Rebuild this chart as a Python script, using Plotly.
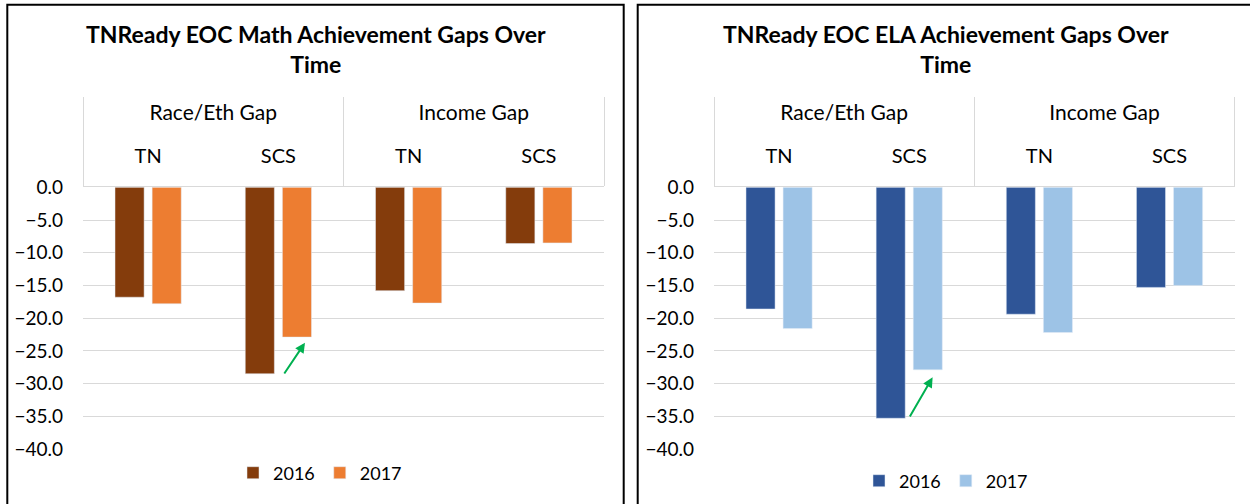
import plotly.graph_objects as go

# ---- data ----
groups = ["Race/Eth Gap", "Race/Eth Gap", "Income Gap", "Income Gap"]
regions = ["TN", "SCS", "TN", "SCS"]
years = ["2016", "2017"]
math_2016 = [-16.8, -28.5, -15.8, -8.6]
math_2017 = [-17.8, -22.9, -17.7, -8.5]
ela_2016 = [-18.6, -35.3, -19.4, -15.3]
ela_2017 = [-21.6, -27.9, -22.2, -15.0]
y_ticks = [0, -5, -10, -15, -20, -25, -30, -35, -40]
titles = ["TNReady EOC Math Achievement Gaps Over<br>Time",
          "TNReady EOC ELA Achievement Gaps Over<br>Time"]

W, H = 1250, 504
def px(x):
    return x / W
def py(y):
    return 1 - y / H

FONT = "Lato, Carlito, Calibri, sans-serif"
TXT = "#000000"
GRID = "#D9D9D9"

# category keys (group + region) and derived group label positions / dividers
keys = [f"{g} | {r}" for g, r in zip(groups, regions)]
n = len(keys)
uniq_groups = list(dict.fromkeys(groups))
group_centers = [sum(i for i, g in enumerate(groups) if g == ug) /
                 groups.count(ug) for ug in uniq_groups]
dividers = [-0.5] + [i + 0.5 for i in range(n - 1) if groups[i] != groups[i + 1]] + [n - 0.5]
xrange_ = [-0.5, n - 0.5]

fig = go.Figure()
fig.add_trace(go.Bar(x=keys, y=math_2016, name=years[0], marker_color="#843C0C",
                     xaxis="x", yaxis="y", legend="legend"))
fig.add_trace(go.Bar(x=keys, y=math_2017, name=years[1], marker_color="#ED7D31",
                     xaxis="x", yaxis="y", legend="legend"))
fig.add_trace(go.Bar(x=keys, y=ela_2016, name=years[0], marker_color="#2F5597",
                     xaxis="x2", yaxis="y2", legend="legend2"))
fig.add_trace(go.Bar(x=keys, y=ela_2017, name=years[1], marker_color="#9DC3E6",
                     xaxis="x2", yaxis="y2", legend="legend2"))
# empty helper traces so the overlaid group-label axes are drawn
for xa, ya in [("x3", "y"), ("x4", "y2")]:
    fig.add_trace(go.Scatter(x=[], y=[], xaxis=xa, yaxis=ya, showlegend=False,
                             hoverinfo="skip", mode="markers"))

ydom = [py(449), py(187.3)]
xax = dict(type="category", side="top", showgrid=False, range=xrange_,
           tickmode="array", tickvals=keys, ticktext=regions, ticks="",
           ticklabelstandoff=15,
           showline=True, linecolor=GRID, linewidth=1, automargin=False,
           tickfont=dict(family=FONT, size=20, color=TXT))
xgrp = dict(type="linear", side="top", showgrid=False, zeroline=False, showline=False,
            range=xrange_, tickmode="array", tickvals=group_centers, ticktext=uniq_groups,
            ticks="", ticklabelstandoff=62, automargin=False,
            minor=dict(tickmode="array", tickvals=dividers, ticks="outside", ticklen=89,
                       tickcolor=GRID, tickwidth=1, showgrid=False),
            tickfont=dict(family=FONT, size=21, color=TXT))
yax = dict(range=[-40, 0], tickvals=y_ticks, tickformat=".1f", showgrid=True,
           gridcolor=GRID, gridwidth=1, zeroline=False, showline=False, ticks="",
           automargin=False,
           tickfont=dict(family=FONT, size=19, color=TXT), ticklabelstandoff=19)

fig.update_layout(
    width=W, height=H, margin=dict(l=0, r=0, t=0, b=0, autoexpand=False),
    paper_bgcolor="white", plot_bgcolor="white",
    barmode="group", bargap=0.43, bargroupgap=0.216,
    xaxis=dict(domain=[px(83), px(604)], anchor="y", **xax),
    yaxis=dict(domain=ydom, anchor="x", **yax),
    xaxis2=dict(domain=[px(714), px(1234.6)], anchor="y2", **xax),
    yaxis2=dict(domain=ydom, anchor="x2", **yax),
    xaxis3=dict(overlaying="x", anchor="y", **xgrp),
    xaxis4=dict(overlaying="x2", anchor="y2", **xgrp),
    legend=dict(orientation="h", x=px(320), y=py(473), xanchor="center", yanchor="middle",
                font=dict(family=FONT, size=18, color=TXT), bgcolor="rgba(0,0,0,0)"),
    legend2=dict(orientation="h", x=px(946), y=py(481), xanchor="center", yanchor="middle",
                 font=dict(family=FONT, size=18, color=TXT), bgcolor="rgba(0,0,0,0)"),
    showlegend=True,
)

# titles
for t, cx in zip(titles, [315.5, 946]):
    fig.add_annotation(text=t, xref="paper", yref="paper", x=px(cx), y=py(49),
                       xanchor="center", yanchor="middle", showarrow=False,
                       font=dict(family=FONT, size=23, color=TXT, weight="bold"))

# green arrows
for (tx, ty, sx, sy) in [(305, 342.7, 283.3, 375), (932.6, 377.3, 909, 418)]:
    fig.add_annotation(text="", xref="paper", yref="paper", x=px(tx), y=py(ty),
                       ax=sx - tx, ay=sy - ty, showarrow=True, arrowhead=2,
                       arrowsize=1, arrowwidth=2, arrowcolor="#00B050", standoff=0)

# panel frames
fig.add_shape(type="rect", xref="paper", yref="paper", x0=px(7.3), x1=px(623.7),
              y0=-0.2, y1=py(4.7), line=dict(color="black", width=2))
fig.add_shape(type="rect", xref="paper", yref="paper", x0=px(637.7), x1=1.1,
              y0=-0.2, y1=py(4.7), line=dict(color="black", width=2))

fig.write_html("out.html", config={"displayModeBar": False},
               post_script="document.body.style.margin='0px';document.body.style.overflow='hidden';")
